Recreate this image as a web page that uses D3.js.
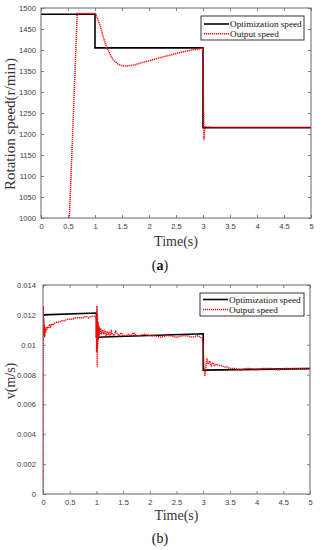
<!DOCTYPE html>
<html><head><meta charset="utf-8">
<script src="https://cdn.jsdelivr.net/npm/d3@7"></script>
<style>
html,body{margin:0;padding:0;background:#fff;}
svg{display:block;}
</style></head>
<body>
<svg id="chart" width="322" height="550"></svg>
<script>
// ---------- DATA ----------
const xTicks = [0,0.5,1,1.5,2,2.5,3,3.5,4,4.5,5];
const xTickLabels = ["0","0.5","1","1.5","2","2.5","3","3.5","4","4.5","5"];
const legendNames = ["Optimization speed","Output speed"];

// Chart (a)
const yTicksA = [1000,1050,1100,1150,1200,1250,1300,1350,1400,1450,1500];
const yTickLabelsA = ["1000","1050","1100","1150","1200","1250","1300","1350","1400","1450","1500"];
const optTimeA = [0, 1, 1, 3, 3, 5];
const optValueA = [1485, 1485, 1405, 1405, 1215, 1215];
const outTimeA = [0.524,0.587,0.63,0.67,1.0,1.02,1.09,1.15,1.21,1.28,1.34,1.42,1.52,1.6,1.71,1.85,2.02,2.18,2.33,2.48,2.64,2.8,2.94,2.99,3.0,3.01,3.02,3.03,3.05,3.2,5.0];
const outValueA = [1000,1200,1350,1487,1487,1484,1460,1432,1408,1390,1376,1367,1362,1362,1364,1369,1375,1381,1386,1391,1396,1400,1403,1405,1380,1260,1185,1212,1217,1216,1216];

// Chart (b)
const yTicksB = [0,0.002,0.004,0.006,0.008,0.01,0.012,0.014];
const yTickLabelsB = ["0","0.002","0.004","0.006","0.008","0.01","0.012","0.014"];
const optTimeB = [0, 1, 1, 3, 3, 5];
const optValueB = [0.0120, 0.01212, 0.0105, 0.01073, 0.0083, 0.0084];
const outTimeB = [0,0.005,0.01,0.015,0.02,0.025,0.03,0.04,0.05,0.06,0.07,0.08,0.1,0.12,0.14,0.16,0.18,0.2,0.25,0.3,0.35,0.4,0.45,0.5,0.55,0.6,0.65,0.7,0.75,0.8,0.85,0.9,0.95,0.98,
  1.0,1.005,1.01,1.015,1.02,1.025,1.03,1.035,1.04,1.05,1.06,1.07,1.08,1.1,1.12,1.14,1.16,1.18,1.2,1.22,1.24,1.26,1.28,1.3,1.33,1.36,1.4,1.43,1.46,1.5,1.55,1.6,1.65,1.7,1.75,1.8,1.9,2.0,2.1,2.2,2.3,2.4,2.5,2.6,2.7,2.8,2.9,2.95,2.98,
  3.0,3.01,3.02,3.03,3.05,3.07,3.09,3.12,3.15,3.18,3.21,3.25,3.3,3.35,3.4,3.45,3.5,3.6,3.7,3.8,3.9,4.0,4.1,4.2,4.3,4.4,4.5,4.6,4.7,4.8,4.9,5.0];
const outValueB = [0,0.0126,0.0106,0.0118,0.0108,0.0113,0.0105,0.0111,0.0108,0.0112,0.0110,0.0112,0.0111,0.0113,0.0112,0.0114,0.0113,0.0114,0.0115,0.0115,0.0116,0.0116,0.0117,0.0117,0.0117,0.0118,0.0118,0.0118,0.0118,0.0119,0.0118,0.0119,0.0119,0.0119,
  0.0118,0.0095,0.0126,0.0085,0.0120,0.0098,0.0115,0.0103,0.0113,0.0106,0.0112,0.0107,0.0111,0.0108,0.0110,0.0107,0.0110,0.0106,0.0109,0.0107,0.0108,0.0106,0.0109,0.0107,0.0106,0.0109,0.0107,0.0106,0.0108,0.0106,0.0106,0.0107,0.0106,0.0108,0.0106,0.0106,0.0107,0.0106,0.0106,0.0105,0.0106,0.0106,0.0105,0.0106,0.0106,0.0105,0.0106,0.0105,0.0104,
  0.0100,0.0088,0.0083,0.0079,0.0085,0.0091,0.0087,0.0089,0.0086,0.0088,0.0086,0.0087,0.0086,0.0086,0.0085,0.0085,0.0084,0.0084,0.0083,0.0084,0.0084,0.0083,0.0084,0.0084,0.0084,0.0083,0.0084,0.0084,0.0084,0.0084,0.0084,0.0084];

// ---------- DRAW ----------
const svg = d3.select("#chart");
const axisColor = "#666";
const textColor = "#3a3a3a";
const tickFont = "'Liberation Sans', Arial, sans-serif";
const serif = "'Liberation Serif', 'Times New Roman', serif";

function panel(cfg){
  const x = d3.scaleLinear().domain([0,5]).range([cfg.left,cfg.right]);
  const y = d3.scaleLinear().domain(cfg.yDomain).range([cfg.bottom,cfg.top]);
  const g = svg.append("g");
  const clipId = "clip"+cfg.id;
  svg.append("clipPath").attr("id",clipId).append("rect")
    .attr("x",cfg.left).attr("y",cfg.top).attr("width",cfg.right-cfg.left).attr("height",cfg.bottom-cfg.top);

  // axes
  const ax = (axis, transform, labels) => {
    const a = g.append("g").attr("transform",transform).call(axis);
    a.select(".domain").remove();
    a.selectAll(".tick line").attr("stroke",axisColor).attr("stroke-width",0.8);
    a.selectAll("text").attr("fill",textColor).style("font-family",tickFont).style("font-size","7.6px");
    if(!labels) a.selectAll("text").remove();
    return a;
  };
  const fx = (d,i)=>xTickLabels[i];
  const fy = (d,i)=>cfg.yLabels[i];
  ax(d3.axisBottom(x).tickValues(xTicks).tickFormat(fx).tickSize(-3).tickPadding(6), `translate(0,${cfg.bottom})`, true);
  ax(d3.axisTop(x).tickValues(xTicks).tickSize(-3), `translate(0,${cfg.top})`, false);
  ax(d3.axisLeft(y).tickValues(cfg.yTicks).tickFormat(fy).tickSize(-3).tickPadding(cfg.yPad), `translate(${cfg.left},0)`, true);
  ax(d3.axisRight(y).tickValues(cfg.yTicks).tickSize(-3), `translate(${cfg.right},0)`, false);

  const line = d3.line().x(d=>x(d[0])).y(d=>y(d[1]));
  const optPts = cfg.optT.map((t,i)=>[t,cfg.optV[i]]);
  const outPts = cfg.outT.map((t,i)=>[t,cfg.outV[i]]);
  const lines = svg.append("g").attr("clip-path",`url(#${clipId})`);
  lines.append("path").attr("d",line(optPts)).attr("fill","none").attr("stroke","#000").attr("stroke-width",1.6);
  lines.append("path").attr("d",line(outPts)).attr("fill","none").attr("stroke","#ff0000").attr("stroke-width",1.5).attr("stroke-dasharray","1.2,0.8");

  // frame
  svg.append("rect").attr("x",cfg.left).attr("y",cfg.top).attr("width",cfg.right-cfg.left).attr("height",cfg.bottom-cfg.top)
    .attr("fill","none").attr("stroke",axisColor).attr("stroke-width",1);

  // legend
  const L = cfg.legend;
  const lg = svg.append("g");
  lg.append("rect").attr("x",L.x).attr("y",L.y).attr("width",L.w).attr("height",L.h)
    .attr("fill","#fff").attr("stroke","#222").attr("stroke-width",0.9);
  legendNames.forEach((name,i)=>{
    const yy = L.y + L.row0 + i*L.dy;
    lg.append("line").attr("x1",L.x+3).attr("x2",L.x+28).attr("y1",yy).attr("y2",yy)
      .attr("stroke", i===0?"#000":"#ff0000").attr("stroke-width", i===0?1.6:1.5)
      .attr("stroke-dasharray", i===0?null:"1.2,0.8");
    lg.append("text").attr("x",L.x+29).attr("y",yy).attr("dy","0.35em")
      .style("font-family",serif).style("font-size","9.2px").attr("fill","#111").text(name);
  });

  // axis labels
  svg.append("text").attr("x",(cfg.left+cfg.right)/2).attr("y",cfg.xLabelY).attr("text-anchor","middle").attr("dy","0.35em")
    .style("font-family",serif).style("font-size","14px").attr("fill","#333").text("Time(s)");
  svg.append("text").attr("transform",`translate(${cfg.yLabelX},${cfg.yLabelCY}) rotate(-90)`).attr("text-anchor","middle").attr("dy","0.35em")
    .style("font-family",serif).style("font-size",cfg.yLabelSize).attr("fill","#333").text(cfg.yLabel);
  // caption
  const cap = svg.append("text").attr("x",160).attr("y",cfg.capY).attr("text-anchor","middle").attr("dy","0.35em")
    .style("font-family",serif).style("font-size","14px").attr("fill","#111");
  cap.append("tspan").text("(");
  cap.append("tspan").style("font-weight",cfg.capBold?"bold":"normal").text(cfg.cap);
  cap.append("tspan").text(")");
}

panel({id:"a", left:41, right:311, top:8, bottom:218, yDomain:[1000,1500], yTicks:yTicksA, yLabels:yTickLabelsA, yPad:5,
  optT:optTimeA, optV:optValueA, outT:outTimeA, outV:outValueA,
  legend:{x:201,y:16,w:103,h:24,row0:8,dy:9.7},
  xLabelY:241, yLabelX:10, yLabelCY:124, yLabel:"Rotation speed(r/min)", yLabelSize:"15px", capY:265, cap:"a", capBold:true});

panel({id:"b", left:43, right:310, top:285, bottom:494, yDomain:[0,0.014], yTicks:yTicksB, yLabels:yTickLabelsB, yPad:7,
  optT:optTimeB, optV:optValueB, outT:outTimeB, outV:outValueB,
  legend:{x:200,y:293,w:104,h:23,row0:6.5,dy:10},
  xLabelY:515, yLabelX:10, yLabelCY:381, yLabel:"v(m/s)", yLabelSize:"14px", capY:538, cap:"b", capBold:false});
</script>
</body></html>
